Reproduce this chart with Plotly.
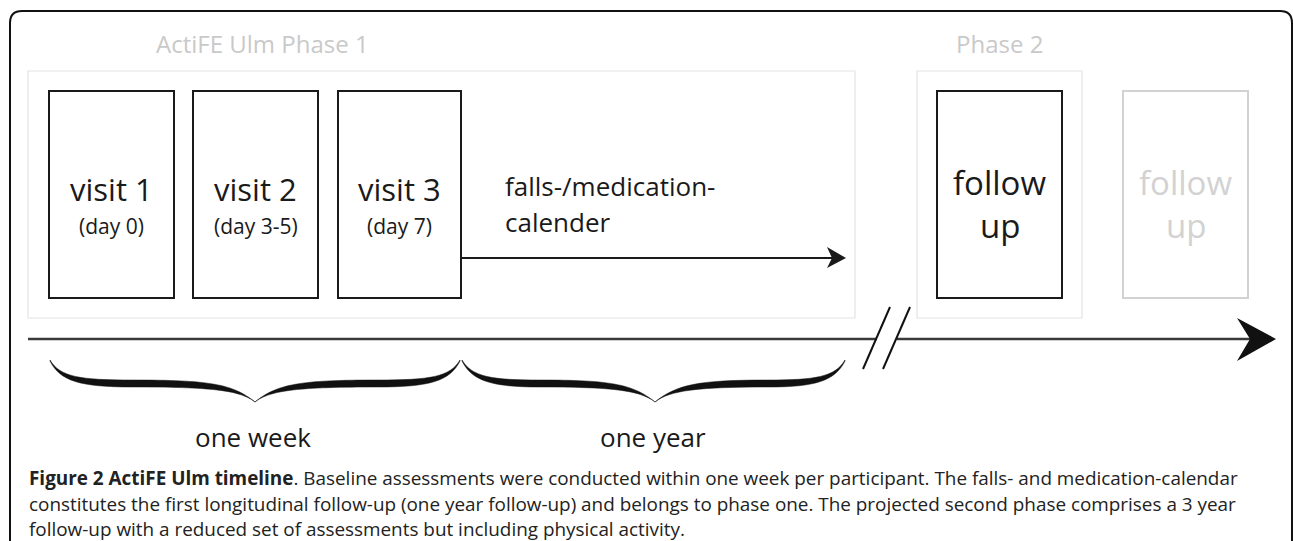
import plotly.graph_objects as go

# ---------------- content ----------------
phase_titles = ["ActiFE Ulm Phase 1", "Phase 2"]
visit_labels = ["visit 1", "visit 2", "visit 3"]
visit_days = ["(day 0)", "(day 3-5)", "(day 7)"]
calendar_label = ["falls-/medication-", "calender"]
followup_labels = ["follow", "up"]
period_labels = ["one week", "one year"]
caption_bold = "Figure 2 ActiFE Ulm timeline"
caption_lines = [
    ". Baseline assessments were conducted within one week per participant. The falls- and medication-calendar",
    "constitutes the first longitudinal follow-up (one year follow-up) and belongs to phase one. The projected second phase comprises a 3 year",
    "follow-up with a reduced set of assessments but including physical activity.",
]

# ---------------- layout geometry (pixels) ----------------
W, H = 1293, 541
FONT = "Open Sans"
phase_box = [(28, 71, 855, 318), (917, 71, 1082, 318)]
phase_title_x = [262, 999]
visit_x = [(49, 174), (193, 318), (338, 461)]
box_y = (91, 298)
follow_x = [(937, 1062), (1123, 1248)]
timeline_y = 339
brace_spans = [(50, 460, 255), (462, 845, 655)]
brace_top = 360
brace_tip = 402

fig = go.Figure()
fig.add_trace(go.Scatter(x=[0, W], y=[0, H], mode="markers",
                         marker=dict(opacity=0), hoverinfo="skip", showlegend=False))

shapes = []
ann = []

def rect(x0, y0, x1, y1, color, width):
    shapes.append(dict(type="rect", x0=x0, y0=y0, x1=x1, y1=y1,
                       line=dict(color=color, width=width), fillcolor="rgba(0,0,0,0)",
                       layer="below"))

def text(x, y, s, size, color="#1a1a1a", xanchor="center", yanchor="middle", family=FONT):
    ann.append(dict(x=x, y=y, xref="x", yref="y", text=s, showarrow=False,
                    xanchor=xanchor, yanchor=yanchor,
                    font=dict(family=family, size=size, color=color)))

# outer rounded frame
r = 12
shapes.append(dict(type="path",
                   path=f"M 10,{H+5} L 10,{11+r} Q 10,11 {10+r},11 L {1292-r},11 Q 1292,11 1292,{11+r} L 1292,{H+5}",
                   line=dict(color="#111111", width=2)))

# phase boxes and titles
for (x0, y0, x1, y1) in phase_box:
    rect(x0, y0, x1, y1, "#e3e3e3", 1.2)
for t, x in zip(phase_titles, phase_title_x):
    text(x, 43, t, 24, color="#c9c9c9")

# visit boxes
for (x0, x1), lab, day in zip(visit_x, visit_labels, visit_days):
    rect(x0, box_y[0], x1, box_y[1], "#1a1a1a", 2)
    text((x0 + x1) / 2, 189, lab, 31)
    text((x0 + x1) / 2, 226, day, 21)

# calendar arrow
shapes.append(dict(type="line", x0=461, y0=258, x1=835, y1=258,
                   line=dict(color="#1a1a1a", width=2)))
shapes.append(dict(type="path", path="M 846,258 L 827,247 L 832,258 L 827,268 Z",
                   fillcolor="#1a1a1a", line=dict(width=0)))
text(503, 186, calendar_label[0], 26, xanchor="left")
text(503, 222, calendar_label[1], 26, xanchor="left")

# follow-up boxes
for i, (x0, x1) in enumerate(follow_x):
    col = "#1a1a1a" if i == 0 else "#d2d2d2"
    rect(x0, box_y[0], x1, box_y[1], col, 2)
    text((x0 + x1) / 2, 182, followup_labels[0], 33, color=col)
    text((x0 + x1) / 2, 225, followup_labels[1], 33, color=col)

# timeline with break
shapes.append(dict(type="line", x0=28, y0=timeline_y, x1=877, y1=timeline_y,
                   line=dict(color="#3a3a3a", width=2.5)))
shapes.append(dict(type="line", x0=897, y0=timeline_y, x1=1250, y1=timeline_y,
                   line=dict(color="#3a3a3a", width=2.5)))
shapes.append(dict(type="path",
                   path=f"M 1276,{timeline_y} L 1237,{timeline_y-21} L 1250,{timeline_y} L 1237,{timeline_y+22} Z",
                   fillcolor="#111111", line=dict(width=0)))
for dx in (0, 20):
    shapes.append(dict(type="line", x0=890 + dx, y0=307, x1=863 + dx, y1=369,
                       line=dict(color="#111111", width=2)))

# braces
def brace(x0, x1, xm, y0, yt):
    a = x0 + (xm - x0) * 0.4
    b = xm + (x1 - xm) * 0.6
    p = (f"M {x0},{y0} "
         f"C {x0+10},{y0+17} {x0+30},{y0+20} {a},{y0+20} "
         f"C {xm-45},{y0+20} {xm-22},{y0+24} {xm},{yt} "
         f"C {xm+22},{y0+24} {xm+45},{y0+20} {b},{y0+20} "
         f"C {x1-30},{y0+20} {x1-10},{y0+17} {x1},{y0} "
         f"L {x1},{y0+1} "
         f"C {x1-10},{y0+21} {x1-30},{y0+27} {b},{y0+27} "
         f"C {xm+45},{y0+27} {xm+15},{y0+30} {xm},{yt} "
         f"C {xm-15},{y0+30} {xm-45},{y0+27} {a},{y0+27} "
         f"C {x0+30},{y0+27} {x0+10},{y0+21} {x0},{y0+1} Z")
    return p

for (x0, x1, xm), lab in zip(brace_spans, period_labels):
    shapes.append(dict(type="path", path=brace(x0, x1, xm, brace_top, brace_tip),
                       fillcolor="#111111", line=dict(color="#111111", width=0.5)))
    text(xm - 2, 437, lab, 26)

# caption
CAP = 18.9
text(27, 477.5, f"<b>{caption_bold}</b>{caption_lines[0]}", CAP, color="#222222", xanchor="left")
text(27, 503.5, caption_lines[1], CAP, color="#222222", xanchor="left")
text(27, 528.5, caption_lines[2], CAP, color="#222222", xanchor="left")

fig.update_layout(
    width=W, height=H,
    margin=dict(l=0, r=0, t=0, b=0),
    paper_bgcolor="white", plot_bgcolor="white",
    xaxis=dict(range=[0, W], visible=False, fixedrange=True),
    yaxis=dict(range=[H, 0], visible=False, fixedrange=True),
    shapes=shapes, annotations=ann, showlegend=False,
)
fig.write_html("out.html", config={"displayModeBar": False},
               post_script="document.body.style.margin='0';document.body.style.overflow='hidden';")
